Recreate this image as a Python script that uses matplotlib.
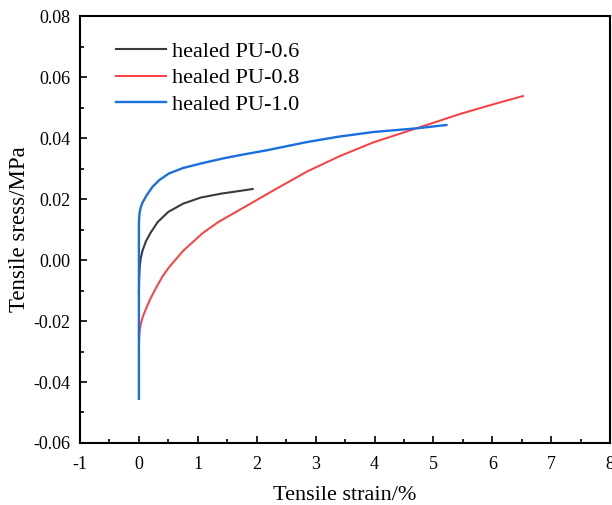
import matplotlib.pyplot as plt
from matplotlib.ticker import MultipleLocator

# healed PU-0.6
x_06 = [0.0, 0.005, 0.015, 0.03, 0.06, 0.12, 0.2, 0.32, 0.5, 0.75, 1.05, 1.4, 1.65, 1.93]
y_06 = [-0.0109, -0.006, -0.002, 0.0005, 0.0030, 0.0062, 0.0090, 0.0125, 0.0158, 0.0185, 0.0205, 0.0218, 0.0225, 0.0233]

# healed PU-0.8
x_08 = [0.0, 0.005, 0.015, 0.035, 0.07, 0.13, 0.2, 0.3, 0.4, 0.51, 0.75, 1.08, 1.35, 1.65, 2.28, 2.85, 3.41, 3.98, 4.71, 5.45, 6.0, 6.52]
y_08 = [-0.030, -0.026, -0.0228, -0.0207, -0.0184, -0.0155, -0.0125, -0.0088, -0.0054, -0.0024, 0.0030, 0.0088, 0.0125, 0.0158, 0.0228, 0.0290, 0.0341, 0.0386, 0.0432, 0.0479, 0.0510, 0.0538]

# healed PU-1.0
x_10 = [0.0, 0.0, 0.003, 0.012, 0.03, 0.06, 0.13, 0.23, 0.35, 0.51, 0.75, 1.08, 1.42, 1.71, 2.17, 2.85, 3.4, 3.98, 4.71, 5.22]
y_10 = [-0.0455, 0.0115, 0.0135, 0.0155, 0.0172, 0.0188, 0.0212, 0.0240, 0.0263, 0.0284, 0.0302, 0.0318, 0.0333, 0.0344, 0.0360, 0.0387, 0.0405, 0.0420, 0.0432, 0.0443]

plt.rcParams['font.family'] = ['Liberation Serif', 'DejaVu Serif']

fig = plt.figure(figsize=(6.12, 5.05), dpi=100)
ax = fig.add_axes([0.1307, 0.1228, 0.8663, 0.8452])

ax.plot(x_06, y_06, color='#3a3a3a', lw=1.5, label='healed PU-0.6')
ax.plot(x_08, y_08, color='#ff3c3c', lw=1.4, label='healed PU-0.8')
ax.plot(x_10, y_10, color='#1a6fe0', lw=1.7, label='healed PU-1.0')

ax.set_xlim(-1, 8)
ax.set_ylim(-0.06, 0.08)
ax.xaxis.set_major_locator(MultipleLocator(1))
ax.xaxis.set_minor_locator(MultipleLocator(0.5))
ax.yaxis.set_major_locator(MultipleLocator(0.02))
ax.yaxis.set_minor_locator(MultipleLocator(0.01))
ax.yaxis.set_major_formatter(plt.FuncFormatter(lambda v, p: f'{v:.2f}'))
ax.xaxis.set_major_formatter(plt.FuncFormatter(lambda v, p: f'{v:.0f}'))

ax.tick_params(which='both', direction='in', labelsize=13, width=1.2, pad=7)
ax.tick_params(axis='x', which='both', pad=9.5)
ax.tick_params(which='major', length=5)
ax.tick_params(which='minor', length=3)
for s in ax.spines.values():
    s.set_linewidth(1.5)

ax.set_xlabel('Tensile strain/%', fontsize=16, labelpad=9)
ax.set_ylabel('Tensile sress/MPa', fontsize=16.5, labelpad=2)

ax.legend(loc='upper left', frameon=False, fontsize=16, handlelength=2.25,
          handletextpad=0.27, labelspacing=0.27, borderaxespad=0,
          bbox_to_anchor=(0.052, 0.962))

fig.savefig('out.png', dpi=100)
